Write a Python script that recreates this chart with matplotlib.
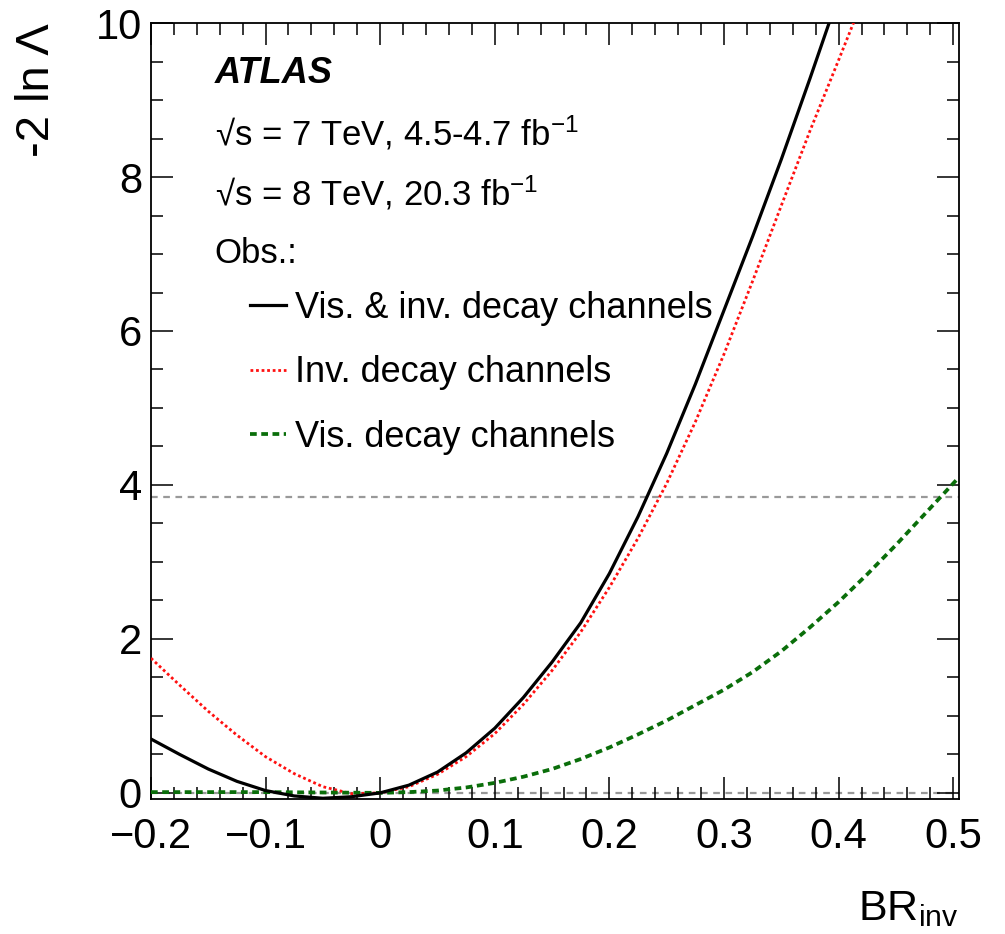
import matplotlib

matplotlib.use("Agg")

import matplotlib.pyplot as plt
from matplotlib.ticker import MultipleLocator

plt.rcParams["font.family"] = ["Liberation Sans", "DejaVu Sans"]
plt.rcParams["mathtext.fontset"] = "custom"
plt.rcParams["mathtext.rm"] = "Liberation Sans"
plt.rcParams["mathtext.it"] = "Liberation Sans:italic"
plt.rcParams["mathtext.bf"] = "Liberation Sans:bold"

# -2 ln Lambda vs BR_inv
br_comb = [-0.2, -0.175, -0.15, -0.125, -0.1, -0.075, -0.05, -0.025, 0.0, 0.025, 0.05,
           0.075, 0.1, 0.125, 0.15, 0.175, 0.2, 0.225, 0.25, 0.275, 0.3, 0.325, 0.35,
           0.375, 0.4]
nll_comb = [0.70, 0.50, 0.31, 0.15, 0.03, -0.04, -0.07, -0.05, 0.0, 0.10, 0.27,
            0.52, 0.84, 1.24, 1.70, 2.21, 2.85, 3.59, 4.41, 5.31, 6.27, 7.23, 8.23,
            9.28, 10.36]

br_inv = [-0.2, -0.175, -0.15, -0.125, -0.1, -0.075, -0.05, -0.025, 0.0, 0.025, 0.05,
          0.075, 0.1, 0.125, 0.15, 0.175, 0.2, 0.225, 0.25, 0.275, 0.3, 0.325, 0.35,
          0.375, 0.4, 0.425]
nll_inv = [1.75, 1.40, 1.06, 0.75, 0.47, 0.25, 0.08, -0.01, 0.0, 0.08, 0.24,
           0.47, 0.77, 1.15, 1.59, 2.09, 2.67, 3.31, 4.02, 4.82, 5.70, 6.65, 7.63,
           8.60, 9.52, 10.45]

br_vis = [-0.2, -0.15, -0.1, -0.05, 0.0, 0.025, 0.05, 0.075, 0.1, 0.125, 0.15, 0.175,
          0.2, 0.225, 0.25, 0.275, 0.3, 0.325, 0.35, 0.375, 0.4, 0.425, 0.45, 0.475, 0.505]
nll_vis = [0.01, 0.01, 0.01, 0.005, 0.0, 0.01, 0.03, 0.07, 0.13, 0.21, 0.31, 0.44,
           0.59, 0.76, 0.94, 1.14, 1.34, 1.57, 1.84, 2.15, 2.48, 2.84, 3.22, 3.62, 4.10]

ref_levels = [0.0, 3.84]

fig = plt.figure(figsize=(10.05, 9.34), dpi=100)
ax = fig.add_axes([0.1502, 0.1445, 0.804, 0.8308])

for lev in ref_levels:
    ax.axhline(lev, color="#999999", lw=1.6, ls=(0, (3, 2.5)), zorder=1)

ax.plot(br_comb, nll_comb, color="black", lw=2.3, label="Vis. & inv. decay channels", zorder=4)
ax.plot(br_inv, nll_inv, color="#ff1010", lw=2.0, ls=(0, (1, 1)), label="Inv. decay channels", zorder=3)
ax.plot(br_vis, nll_vis, color="#0a6e0a", lw=2.7, ls=(0, (1.8, 1.2)), label="Vis. decay channels", zorder=3)

ax.set_xlim(-0.2, 0.505)
ax.set_ylim(-0.08, 10.0)
ax.xaxis.set_major_locator(MultipleLocator(0.1))
ax.xaxis.set_minor_locator(MultipleLocator(0.02))
ax.yaxis.set_major_locator(MultipleLocator(2))
ax.yaxis.set_minor_locator(MultipleLocator(0.5))
ax.tick_params(which="both", direction="in", top=True, right=True, width=1.1, labelsize=30)
ax.tick_params(which="major", length=16)
ax.tick_params(which="minor", length=8.5)
ax.tick_params(axis="y", pad=6.5)
ax.tick_params(axis="x", pad=13)
ax.set_xticks([-0.2, -0.1, 0, 0.1, 0.2, 0.3, 0.4, 0.5])
ax.set_xticklabels(["\u22120.2", "\u22120.1", "0", "0.1", "0.2", "0.3", "0.4", "0.5"])
for sp in ax.spines.values():
    sp.set_linewidth(1.3)

ax.text(1.0, -0.156, r"BR$_{\mathrm{inv}}$", transform=ax.transAxes, ha="right",
        va="baseline", fontsize=31)
ax.text(-0.141, 1.0, "-2 ln \u039b", transform=ax.transAxes, rotation=90, ha="center",
        va="top", fontsize=34)

ax.text(0.079, 0.9227, "ATLAS", transform=ax.transAxes, fontsize=26, fontweight="bold",
        fontstyle="italic", va="baseline")
ax.text(0.079, 0.8428, "\u221as = 7 TeV, 4.5-4.7 fb$^{-1}$", transform=ax.transAxes,
        fontsize=25, va="baseline")
ax.text(0.079, 0.7655, "\u221as = 8 TeV, 20.3 fb$^{-1}$", transform=ax.transAxes,
        fontsize=25, va="baseline")
ax.text(0.079, 0.6907, "Obs.:", transform=ax.transAxes, fontsize=25, va="baseline")

ax.legend(loc="upper left", bbox_to_anchor=(0.1225, 0.6546), frameon=False, fontsize=26,
          handlelength=1.0, handletextpad=0.25, labelspacing=0.81, borderpad=0,
          borderaxespad=0)

fig.savefig("out.png", dpi=100)
